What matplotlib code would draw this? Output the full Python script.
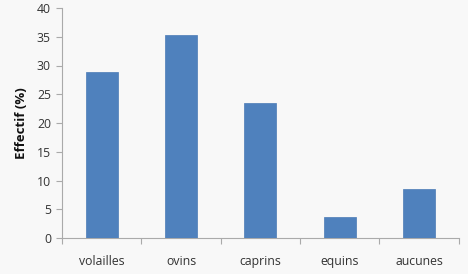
import matplotlib
matplotlib.use("Agg")
import matplotlib.pyplot as plt
import numpy as np

categories = ["volailles", "ovins", "caprins", "equins", "aucunes"]
values = [28.8, 35.3, 23.4, 3.7, 8.5]
yticks = [0, 5, 10, 15, 20, 25, 30, 35, 40]

plt.rcParams['font.family'] = ['Open Sans', 'DejaVu Sans']

fig = plt.figure(figsize=(4.68, 2.74), dpi=100, facecolor="#f8f8f8")
ax = fig.add_axes([62/468, 36/274, (458.7-62)/468, 230/274])
ax.set_facecolor("#f8f8f8")

x = np.arange(len(categories))
ax.bar(x, values, width=0.4, color="#4f81bd", edgecolor="#4a7ab5", linewidth=0.5, zorder=3)

ax.set_xlim(-0.5, len(categories) - 0.5)
ax.set_ylim(0, 40)
ax.set_yticks(yticks)
ax.set_yticklabels([str(t) for t in yticks], fontsize=8.8, color="#333333")

ax.set_xticks(np.arange(-0.5, len(categories), 1.0))
ax.set_xticklabels([])
ax.set_xticks(x, minor=True)
ax.set_xticklabels(categories, minor=True, fontsize=8.8, color="#333333")
ax.tick_params(axis="x", which="minor", length=0, pad=12)
ax.tick_params(axis="x", which="major", length=4, color="#aaaaaa", direction="out")
ax.tick_params(axis="y", length=4, color="#aaaaaa", direction="out", pad=4)

for s in ["top", "right"]:
    ax.spines[s].set_visible(False)
for s in ["left", "bottom"]:
    ax.spines[s].set_color("#aaaaaa")
    ax.spines[s].set_linewidth(0.8)

ax.set_ylabel("Effectif (%)", fontsize=9.5, fontweight="bold", color="#111111", labelpad=6)

fig.savefig("out.png", dpi=100, facecolor=fig.get_facecolor())
